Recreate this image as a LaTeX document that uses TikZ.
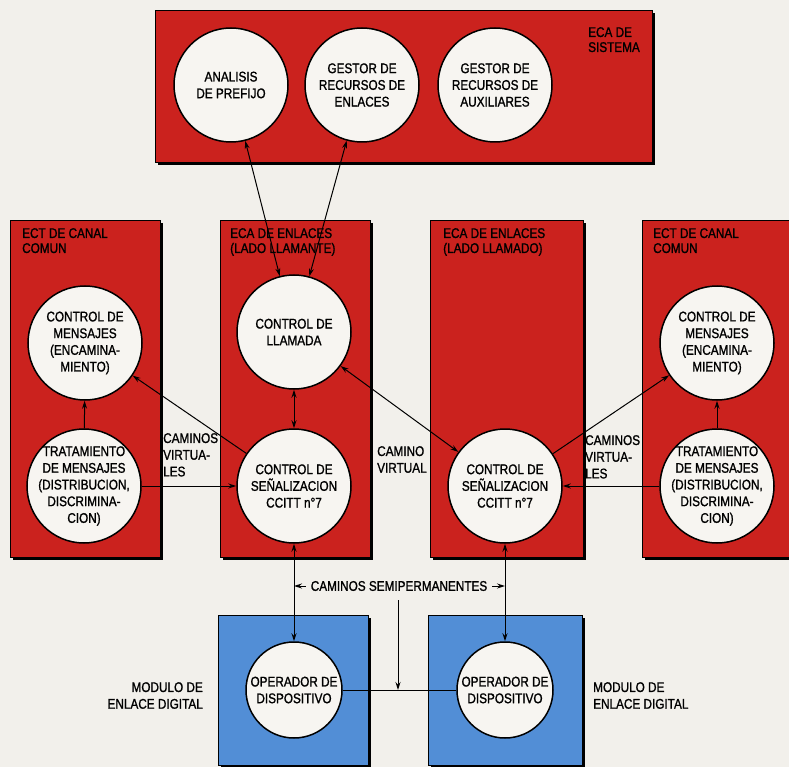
\documentclass[tikz,border=0pt]{standalone}
\usepackage{fontspec}
\setmainfont{Liberation Sans}[FakeStretch=0.84, FakeBold=1.2]
\usetikzlibrary{arrows.meta}

\definecolor{ecared}{RGB}{203,34,30}
\definecolor{modblue}{RGB}{82,142,214}
\definecolor{paper}{RGB}{242,240,235}
\definecolor{disc}{RGB}{247,245,241}

% block with a dark drop shadow
\newcommand{\blockwall}[3]{%
  \fill[black, shift={(3,3)}] (#2) rectangle (#3);
  \filldraw[fill=#1, draw=black, line width=0.6pt] (#2) rectangle (#3);}

\tikzset{
  unit/.style={circle, draw=black, line width=1.5pt, fill=disc,
    minimum size=114pt, inner sep=-12pt, align=center},
  opunit/.style={unit, minimum size=96pt},
  tag/.style={anchor=north west, inner sep=0pt, align=left},
  boxtag/.style={tag, font=\fontsize{14}{15}\selectfont},
  link/.style={line width=1pt, -{Stealth[length=8pt,width=5pt]}},
  dlink/.style={line width=1pt,
    {Stealth[length=8pt,width=5pt]}-{Stealth[length=8pt,width=5pt]}},
}

\begin{document}
\begin{tikzpicture}[x=1pt, y=-1pt, font=\fontsize{14}{16.7}\selectfont]
\fill[paper] (0,0) rectangle (789,767);
\useasboundingbox (0,0) rectangle (789,767);
\clip (0,0) rectangle (789,767);

\blockwall{ecared}{155,10}{652,162}
\blockwall{ecared}{10,220}{160,557}
\blockwall{ecared}{220,220}{370,557}
\blockwall{ecared}{430,220}{583,557}
\blockwall{ecared}{642,220}{800,557}
\blockwall{modblue}{218,615}{368,765}
\blockwall{modblue}{428,615}{582,765}

\node[boxtag] (sistema) at (588,27) {ECA DE\\SISTEMA};
\node[boxtag] (canalL) at (22,228) {ECT DE CANAL\\COMUN};
\node[boxtag] (llamante) at (230,228) {ECA DE ENLACES\\(LADO LLAMANTE)};
\node[boxtag] (llamado) at (443,228) {ECA DE ENLACES\\(LADO LLAMADO)};
\node[boxtag] (canalR) at (653,228) {ECT DE CANAL\\COMUN};

\node[unit] (analisis) at (231,85) {ANALISIS\\DE PREFIJO};
\node[unit] (gestorenl) at (362,85) {GESTOR DE\\RECURSOS DE\\ENLACES};
\node[unit] (gestoraux) at (495,85) {GESTOR DE\\RECURSOS DE\\AUXILIARES};

\node[unit] (mensajesL) at (85,343)
  {CONTROL DE\\MENSAJES\\(ENCAMINA-\\MIENTO)};
\node[unit] (tratamL) at (84,486)
  {TRATAMIENTO\\DE MENSAJES\\(DISTRIBUCION,\\DISCRIMINA-\\CION)};
\node[unit] (llamada) at (294,332) {CONTROL DE\\LLAMADA};
\node[unit] (senalA) at (294,486) {CONTROL DE\\SEÑALIZACION\\CCITT n°7};
\node[unit] (senalB) at (505,486) {CONTROL DE\\SEÑALIZACION\\CCITT n°7};
\node[unit] (mensajesR) at (717,343)
  {CONTROL DE\\MENSAJES\\(ENCAMINA-\\MIENTO)};
\node[unit] (tratamR) at (717,486)
  {TRATAMIENTO\\DE MENSAJES\\(DISTRIBUCION,\\DISCRIMINA-\\CION)};

\node[opunit] (operA) at (294,690) {OPERADOR DE\\DISPOSITIVO};
\node[opunit] (operB) at (505,690) {OPERADOR DE\\DISPOSITIVO};

\node[tag] (virtL) at (163,433) {CAMINOS\\VIRTUA-\\LES};
\node[tag] (virtC) at (377,446) {CAMINO\\VIRTUAL};
\node[tag] (virtR) at (585,435) {CAMINOS\\VIRTUA-\\LES};
\node[tag, anchor=north east, align=right] (moduloL) at (203,682)
  {MODULO DE\\ENLACE DIGITAL};
\node[tag] (moduloR) at (593,682) {MODULO DE\\ENLACE DIGITAL};
\node[inner sep=5pt] (semi) at (399,586) {CAMINOS SEMIPERMANENTES};

\draw[dlink] (analisis) -- (llamada);
\draw[dlink] (gestorenl) -- (llamada);
\draw[dlink] (llamada) -- (senalA);
\draw[dlink] (senalB) -- (llamada);
\draw[link] (tratamL) -- (mensajesL);
\draw[link] (tratamL) -- (senalA);
\draw[link] (senalA) -- (mensajesL);
\draw[link] (senalB) -- (mensajesR);
\draw[link] (tratamR) -- (senalB);
\draw[link] (tratamR) -- (mensajesR);
\draw[dlink] (senalA) -- (operA);
\draw[dlink] (senalB) -- (operB);
\draw[line width=1pt] (operA) -- (operB);

\draw[link] (semi.west) -- (senalA |- semi.west);
\draw[link] (semi.east) -- (senalB |- semi.east);
\coordinate (pin) at (398,600);
\draw[link] (pin) -- (pin |- operA);
\end{tikzpicture}
\end{document}
